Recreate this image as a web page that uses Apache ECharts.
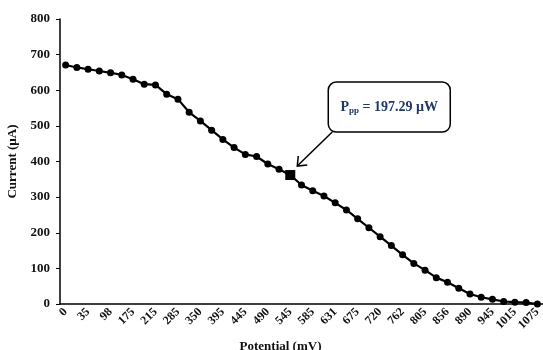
<!DOCTYPE html>
<html><head><meta charset="utf-8">
<script src="https://cdn.jsdelivr.net/npm/echarts@6/dist/echarts.min.js"></script>
<style>html,body{margin:0;padding:0;background:#fff}#c{width:543px;height:350px}</style>
</head><body><div id="c"></div>
<script>
var potential = ['0','18','35','65','98','135','175','195','215','250','285','320','350','370','395','420','445','465','490','520','545','565','585','610','631','655','675','700','720','740','762','785','805','830','856','870','890','920','945','980','1015','1045','1075'];
var current = [671,664,659,654,649,643,631,617,615,589,575,538,514,488,462,439,420,414,393,378,362,334,318,303,284,264,239,214,189,164,138,114,95,74,61,44,28,19,13,7,5,4,0];
var mppIndex = 20;
var annotationText = '197.29 µW';

var serif = '"Liberation Serif", "Times New Roman", serif';
var chart = echarts.init(document.getElementById('c'));
var seriesData = current.map(function(v, i){
  if (i === mppIndex) return {value: v, symbol: 'rect', symbolSize: 10};
  return v;
});
chart.setOption({
  animation: false,
  grid: {left: 60, right: 0, top: 19, bottom: 46, outerBoundsMode: 'none', containLabel: false},
  xAxis: {
    type: 'category', data: potential, boundaryGap: true,
    name: 'Potential (mV)', nameLocation: 'middle', nameGap: 36,
    nameTextStyle: {fontFamily: serif, fontWeight: 'bold', fontSize: 13, color: '#111', padding: [0, 42, 0, 0]},
    axisLine: {lineStyle: {color: '#000', width: 1.5}},
    axisTick: {alignWithLabel: true, interval: 0, length: 4, lineStyle: {color: '#000'}},
    axisLabel: {interval: 1, rotate: 45, margin: 6, fontFamily: serif, fontWeight: 'bold', fontSize: 12, color: '#111'},
    splitLine: {show: false}
  },
  yAxis: {
    type: 'value', min: 0, max: 800, interval: 100,
    name: 'Current (µA)', nameLocation: 'middle', nameGap: 41, nameRotate: 90,
    nameTextStyle: {fontFamily: serif, fontWeight: 'bold', fontSize: 13, color: '#111'},
    axisLine: {show: true, lineStyle: {color: '#000', width: 1.5}},
    axisTick: {show: true, length: 4, lineStyle: {color: '#000'}},
    axisLabel: {margin: 10, fontFamily: serif, fontWeight: 'bold', fontSize: 13, color: '#111'},
    splitLine: {show: false}
  },
  series: [{
    type: 'line', data: seriesData, symbol: 'circle', symbolSize: 7,
    itemStyle: {color: '#000'}, lineStyle: {color: '#000', width: 2.2}
  }]
});
var p = chart.convertToPixel({xAxisIndex: 0, yAxisIndex: 0}, [mppIndex, current[mppIndex]]);
var bx = p[0] + 38, by = p[1] - 93, bw = 122, bh = 50;
chart.setOption({
  graphic: [
    {type: 'rect', shape: {x: bx, y: by, width: bw, height: bh, r: 8},
     style: {fill: '#fff', stroke: '#000', lineWidth: 1.5}},
    {type: 'text', x: bx + bw / 2, y: by + bh / 2,
     style: {text: '{a|P}{s|pp}{a| = ' + annotationText + '}', align: 'center', verticalAlign: 'middle',
       rich: {a: {fontFamily: serif, fontWeight: 'bold', fontSize: 14, fill: '#1F3864'},
              s: {fontFamily: serif, fontWeight: 'bold', fontSize: 9, fill: '#1F3864', verticalAlign: 'bottom', padding: [7, 0, 0, 0]}}}},
    {type: 'line', shape: {x1: bx + 4, y1: by + bh, x2: p[0] + 8, y2: p[1] - 10},
     style: {stroke: '#000', lineWidth: 1.5}},
    {type: 'polyline', shape: {points: [[p[0] + 8, p[1] - 19], [p[0] + 7, p[1] - 9], [p[0] + 17, p[1] - 10]]},
     style: {stroke: '#000', lineWidth: 1.5, fill: null}}
  ]
});
</script></body></html>
